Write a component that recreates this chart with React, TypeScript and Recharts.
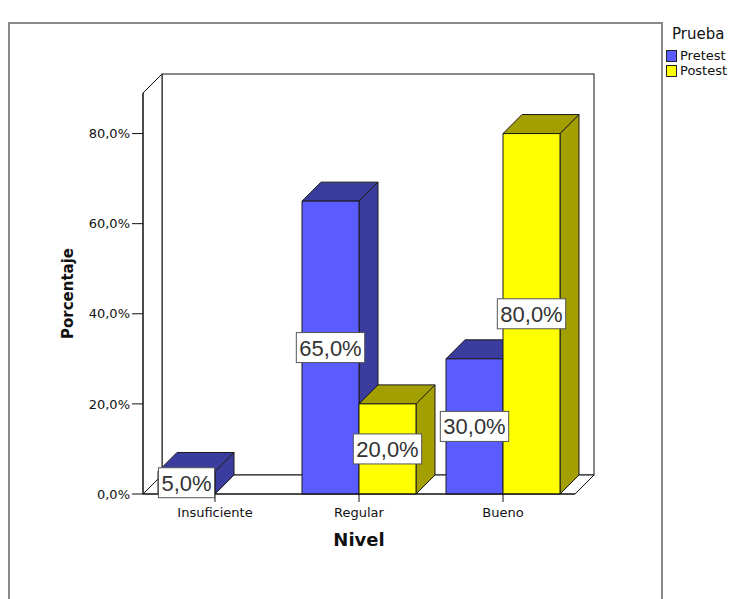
import React from 'react'
import { BarChart, Bar, XAxis, YAxis, ReferenceArea, LabelList, Label } from 'recharts'

// values
const categories = ['Insuficiente', 'Regular', 'Bueno']
const pretest = [5, 65, 30]
const postest = [0, 20, 80]
const yTicks = [0, 20, 40, 60, 80]
const seriesNames = ['Pretest', 'Postest']

const data = categories.map((nivel, i) => ({
  nivel,
  Pretest: pretest[i],
  Postest: postest[i]
}))

const COLORS = {
  Pretest: { front: '#5a5cff', side: '#3a3d9e' },
  Postest: { front: '#ffff00', side: '#a39f00' }
}

const DEPTH = 19
const TICK_FONT = '"DejaVu Sans", Verdana, sans-serif'
const LABEL_FONT = '"Liberation Sans", Arial, sans-serif'

const fmt = (v: number) => `${v.toFixed(1).replace('.', ',')}%`

// rough Arial widths, only to size the white label box
const textWidth = (s: string, size: number) =>
  s.split('').reduce((w, c) => w + (c === ',' ? 0.278 : c === '%' ? 0.889 : 0.556), 0) * size

const Box3D = (props: any) => {
  const { x, y, width, height, front, side } = props
  if (!height || height <= 0) return null
  const d = DEPTH
  const top = `${x},${y} ${x + d},${y - d} ${x + width + d},${y - d} ${x + width},${y}`
  const right = `${x + width},${y} ${x + width + d},${y - d} ${x + width + d},${y + height - d} ${x + width},${y + height}`
  return (
    <g stroke="#1a1a1a" strokeWidth={1} strokeLinejoin="round">
      <polygon points={right} fill={side} />
      <polygon points={top} fill={side} />
      <rect x={x} y={y} width={width} height={height} fill={front} />
    </g>
  )
}

// walls and floor of the 3D box, sized from the plot area
const Walls = (props: any) => {
  const { x, y, width, height } = props
  const d = DEPTH
  const b = y + height
  return (
    <g fill="#fff" stroke="#111" strokeWidth={1}>
      <rect x={x + d} y={y - d} width={width} height={height} />
      <polygon points={`${x},${b} ${x},${y} ${x + d},${y - d} ${x + d},${b - d}`} />
      <polygon points={`${x},${b} ${x + d},${b - d} ${x + width + d},${b - d} ${x + width},${b}`} />
    </g>
  )
}

const ValueLabel = (props: any) => {
  const { x, y, width, height, value } = props
  if (!value) return null
  const s = fmt(value)
  const fs = 22
  const w = textWidth(s, fs) + 6
  const h = 30
  const cx = x + width / 2
  const cy = y + height / 2
  return (
    <g>
      <rect x={cx - w / 2} y={cy - h / 2} width={w} height={h} fill="#fff" stroke="#555" strokeWidth={1} />
      <text
        x={cx}
        y={cy + 8}
        textAnchor="middle"
        fontFamily={LABEL_FONT}
        fontSize={fs}
        fill="#333"
      >
        {s}
      </text>
    </g>
  )
}

const NivelLabel = (props: any) => {
  const { viewBox } = props
  return (
    <text
      x={viewBox.x + viewBox.width / 2}
      y={viewBox.y + viewBox.height - 3}
      textAnchor="middle"
      fontFamily={TICK_FONT}
      fontWeight="bold"
      fontSize={18}
      fill="#111"
    >
      Nivel
    </text>
  )
}

const PorcentajeLabel = (props: any) => {
  const { viewBox } = props
  const lx = viewBox.x + 10
  const ly = viewBox.y + viewBox.height / 2
  return (
    <text
      x={lx}
      y={ly}
      transform={`rotate(-90, ${lx}, ${ly})`}
      textAnchor="middle"
      fontFamily={TICK_FONT}
      fontWeight="bold"
      fontSize={15}
      fill="#111"
    >
      Porcentaje
    </text>
  )
}

export default function App() {
  return (
    <div style={{ position: 'absolute', left: 0, top: 0, width: 736, height: 599, background: '#fff', overflow: 'hidden' }}>
      <div
        style={{
          position: 'absolute',
          left: 8,
          top: 22,
          width: 651,
          height: 600,
          border: '2px solid #8a8a8a'
        }}
      />

      {/* Legend */}
      <div style={{ position: 'absolute', left: 666, top: 24, fontFamily: TICK_FONT, color: '#111' }}>
        <div style={{ fontSize: 15, marginLeft: 6, height: 24, lineHeight: '20px' }}>Prueba</div>
        {seriesNames.map((name) => (
          <div key={name} style={{ display: 'flex', alignItems: 'center', height: 15, fontSize: 13 }}>
            <div
              style={{
                width: 11,
                height: 12,
                boxSizing: 'border-box',
                border: '1px solid #222',
                background: COLORS[name as 'Pretest' | 'Postest'].front,
                marginRight: 3
              }}
            />
            <span>{name}</span>
          </div>
        ))}
      </div>

      <div style={{ position: 'absolute', left: 0, top: 0 }}>
        <BarChart
          width={736}
          height={599}
          data={data}
          margin={{ top: 93, right: 161, bottom: 50, left: 63 }}
          barGap={0}
          barSize={57}
        >
          <ReferenceArea y1={0} y2={89} ifOverflow="visible" shape={<Walls />} />
          <XAxis
            dataKey="nivel"
            height={55}
            axisLine={{ stroke: '#111' }}
            tickLine={{ stroke: '#111' }}
            tickSize={8}
            tickMargin={6}
            tick={{ fontFamily: TICK_FONT, fontSize: 13, fill: '#111' }}
          >
            <Label content={<NivelLabel />} />
          </XAxis>
          <YAxis
            type="number"
            domain={[0, 89]}
            ticks={yTicks}
            width={80}
            axisLine={{ stroke: '#111' }}
            tickLine={{ stroke: '#111' }}
            tickSize={11}
            tickMargin={2}
            tickFormatter={fmt}
            tick={{ fontFamily: TICK_FONT, fontSize: 13, fill: '#111' }}
          >
            <Label content={<PorcentajeLabel />} />
          </YAxis>
          {seriesNames.map((name) => (
            <Bar
              key={name}
              dataKey={name}
              isAnimationActive={false}
              shape={<Box3D front={COLORS[name as 'Pretest' | 'Postest'].front} side={COLORS[name as 'Pretest' | 'Postest'].side} />}
            >
              <LabelList dataKey={name} content={<ValueLabel />} />
            </Bar>
          ))}
        </BarChart>
      </div>
    </div>
  )
}
